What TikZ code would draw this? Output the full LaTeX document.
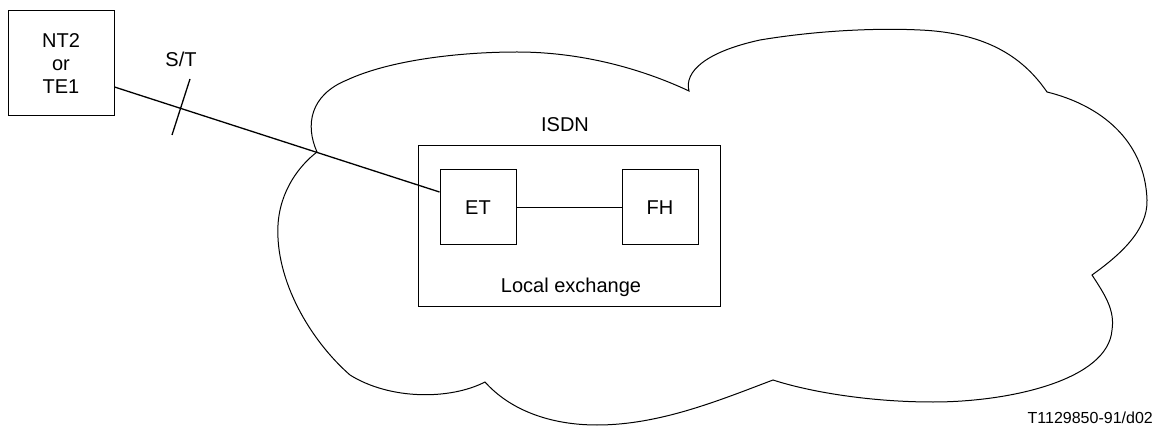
\documentclass[tikz,border=0pt]{standalone}
\usepackage{fontspec}
\setmainfont{Liberation Sans}
\begin{document}
\begin{tikzpicture}[x=1pt,y=-1pt,
  txt/.style={font=\fontsize{20}{23}\selectfont},
  boxnode/.style={draw,line width=1pt,inner sep=0pt,align=center,txt},
  conn/.style={line width=1.3pt},
  cloudline/.style={line width=1pt,line join=miter}]
\useasboundingbox (0,0) rectangle (1155,427);
% cloud
\draw[cloudline] (317,152)
  .. controls (305,125) and (310,95) .. (347,80)
  .. controls (390,60) and (460,52) .. (517,52)
  .. controls (580,52) and (640,68) .. (689,91)
  .. controls (684,72) and (705,52) .. (760,40)
  .. controls (820,30) and (880,28) .. (920,30)
  .. controls (990,33) and (1025,60) .. (1047,92)
  .. controls (1100,105) and (1145,140) .. (1147,200)
  .. controls (1148,230) and (1120,255) .. (1092,275)
  .. controls (1105,295) and (1115,310) .. (1112,330)
  .. controls (1108,380) and (1010,402) .. (933,402)
  .. controls (870,402) and (810,392) .. (773,380)
  .. controls (720,400) and (660,425) .. (597,425)
  .. controls (550,425) and (510,410) .. (485,382)
  .. controls (450,400) and (390,400) .. (350,375)
  .. controls (310,340) and (275,280) .. (278,225)
  .. controls (280,190) and (300,165) .. (317,152) -- cycle;
% boxes
\node[boxnode,minimum width=106pt,minimum height=105pt] (nt) at (61,63.5) {NT2\\or\\TE1};
\node[boxnode,minimum width=302pt,minimum height=160pt] (le) at (569,226) {};
\node[boxnode,minimum width=76pt,minimum height=75pt] (et) at (478,207.5) {ET};
\node[boxnode,minimum width=76pt,minimum height=75pt] (fh) at (660,207.5) {FH};
% labels
\node[txt,anchor=base,inner sep=0pt] (isdn) at (565,132) {ISDN};
\node[txt,anchor=base,inner sep=0pt] (lex) at (571,292) {Local exchange};
\node[txt,anchor=base,inner sep=0pt] (st) at (181,67) {S/T};
\node[font=\fontsize{16}{19}\selectfont,anchor=base east,inner sep=0pt] (ref) at (1153,423) {T1129850-91/d02};
% connectors
\coordinate (ntout) at (nt.east |- 0,87);
\coordinate (etin) at (et.west |- 0,192);
\draw[conn] (ntout) -- (etin);
\draw[conn] (et.east) -- (fh.west);
\coordinate (tk1) at (190,79);
\coordinate (tk2) at (172,135);
\draw[conn] (tk1) -- (tk2);
\end{tikzpicture}
\end{document}
